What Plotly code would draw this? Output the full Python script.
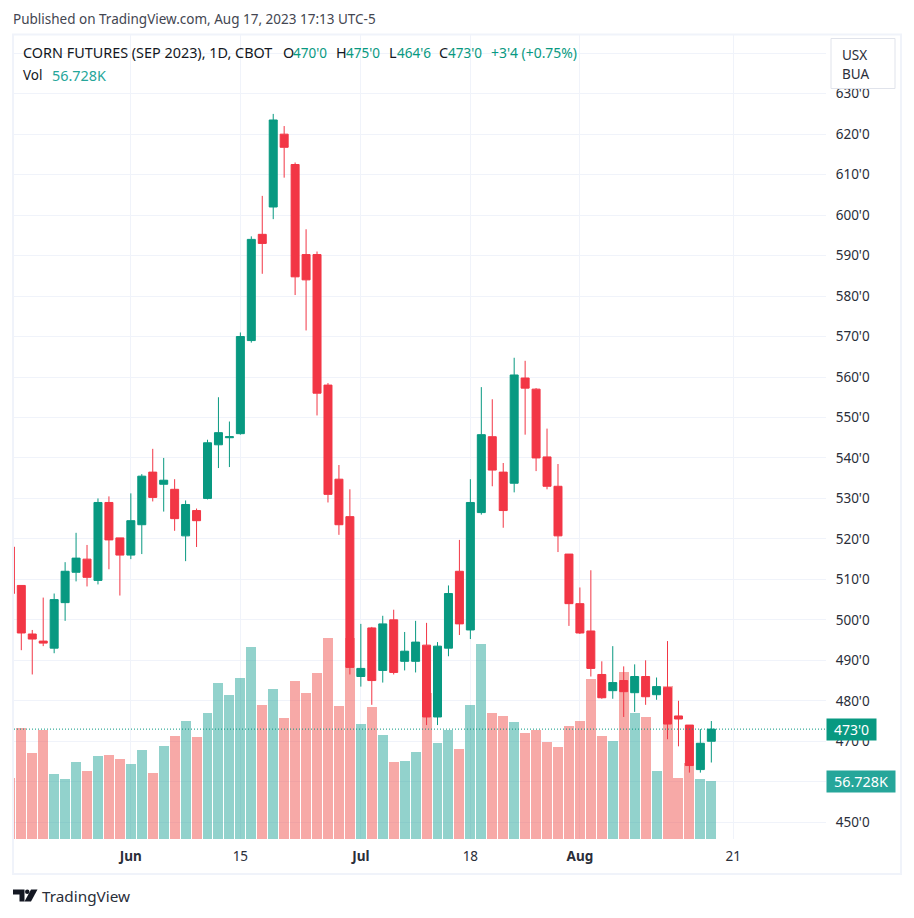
import plotly.graph_objects as go


# daily bars of the Sep 2023 corn contract, prices in cents
bar_index = list(range(65))
open_prices = [518, 508.5, 496.5, 494.75, 493, 504.25, 511.75, 515, 509.75, 529, 520.25, 516, 523.5, 536.5, 533.5, 532.25,
               520.75, 527, 530, 543.25, 545, 546, 569, 595.25, 602, 620, 612.5, 590.25, 590.25, 558, 534.75, 525.5,
               486, 498, 487.5, 500, 489.75, 489.75, 493.75, 476, 493, 512, 497.5, 526.5, 545.25, 536.5, 533.75, 559.75,
               557, 540.25, 533, 516.25, 504, 497.25, 486.5, 482.5, 485, 482, 486, 481.5, 483.25, 476.25, 474, 463, 470]
high_prices = [518, 508.5, 497.5, 505.5, 506.5, 514.25, 521.5, 518.5, 530, 530.5, 520.25, 531.25, 536, 542.25, 540, 534.75,
               529.5, 527.5, 544.5, 555, 549, 571, 594.75, 604.75, 625, 622, 613, 596.5, 591, 558.5, 538.25, 532.25,
               499, 498.25, 501, 502.5, 497, 499.75, 499.25, 494.5, 508.5, 519.75, 534.75, 557.5, 554.5, 538.75, 564.75, 564,
               557.25, 547.25, 538.5, 516.25, 508, 512.25, 489.75, 493.5, 488.5, 489, 490, 485.75, 494.75, 480, 474, 473, 475]
low_prices = [506.25, 492.5, 486.5, 493.5, 491.75, 499.75, 509.5, 508.25, 508.75, 512.5, 506, 515, 516.25, 529.25, 526.75, 522,
              514.5, 518, 529.75, 537.5, 537.75, 545.75, 568.5, 585.5, 599, 609.25, 580.25, 571.5, 550.5, 529, 521, 486.5,
              483.5, 479, 484.5, 486.5, 487.5, 487, 474, 474, 491, 496.25, 495.25, 526, 533, 522.75, 531.5, 545.75,
              536.75, 532.25, 516.75, 498.5, 496.5, 486, 480.5, 480.5, 476, 477.25, 479, 480.25, 470.5, 468.75, 462.25, 462.25, 464.75]
close_prices = [506.5, 496.75, 495.25, 494.25, 505, 512, 515.25, 510.5, 529, 519.75, 516, 524.5, 535.5, 530.25, 534.5, 525,
                528.5, 524.5, 543.75, 546.25, 545.25, 570, 594, 593, 623.5, 616.75, 584.75, 584, 556, 531, 523.5, 488.25,
                488, 485, 499, 487, 492.25, 494.5, 476, 493.5, 506.5, 499, 529, 545.75, 537, 527, 560.5, 557.25,
                540, 533, 520.75, 504, 496.75, 488, 480.75, 484.5, 482.25, 486, 481, 483.5, 474.25, 475.5, 464, 469.5, 473]
volumes = [59.7, 108.6, 84.1, 106.6, 63.6, 58.7, 75.3, 66.5, 81.2, 82.2, 78.2, 73.4, 87, 64.5, 91, 100.7,
           115.4, 99.8, 123.2, 152.6, 140.8, 157.5, 187.8, 131, 146.7, 118.3, 154.5, 142.8, 162.3, 196.6, 130.1, 196.6,
           112.5, 129.1, 101.7, 75.3, 76.3, 85.1, 142.8, 93.9, 106.6, 88, 131, 190.7, 123.2, 120.3, 114.4, 103.7,
           106.6, 94.9, 90, 110.5, 115.4, 156.5, 100.7, 95.8, 163.3, 123.2, 119.3, 66.5, 149.6, 59.7, 74.3, 58.7, 56.728]

time_tick_index = [11, 21, 32, 42, 52, 66]
time_tick_labels = ['<b>Jun</b>', '15', '<b>Jul</b>', '18', '<b>Aug</b>', '21']
price_ticks = [450, 460, 470, 480, 490, 500, 510, 520, 530, 540, 550, 560, 570, 580, 590, 600, 610, 620, 630, 640]
price_tick_labels = ["450'0", '', "470'0", "480'0", "490'0", "500'0", "510'0", "520'0", "530'0", "540'0",
                     "550'0", "560'0", "570'0", "580'0", "590'0", "600'0", "610'0", "620'0", "630'0", '']

up_color = '#089981'
down_color = '#F23645'
text_color = '#131722'
grid_color = '#F0F3FA'
font_name = 'Noto Sans'

# the page body keeps an 8 px margin around the figure
page_margin = 8
fig_width = 898
fig_height = 902

# pixel edges of the pane on the page
pane_left = 14
pane_right = 826
pane_top = 35
pane_bottom = 839

# paper coordinates from page pixels
def paper_x(px):
    return (px - pane_left) / (pane_right - pane_left)

def paper_y(py):
    return (pane_bottom - py) / (pane_bottom - pane_top)

def page_text(text, px, py, size=13.5, color=text_color):
    return dict(text=text, xref='paper', yref='paper', x=paper_x(px - 2), y=paper_y(py), xanchor='left', yanchor='middle',
                showarrow=False, font=dict(family=font_name, size=size, color=color))


volume_colors = [('rgba(38,166,154,0.5)' if c >= o else 'rgba(239,83,80,0.5)') for o, c in zip(open_prices, close_prices)]

fig = go.Figure(data=[
    go.Bar(x=bar_index,
           y=volumes,
           width=0.91,
           marker=dict(color=volume_colors, line=dict(width=0)),
           yaxis='y',
           name='Vol'),
    go.Candlestick(x=bar_index,
                   open=open_prices,
                   high=high_prices,
                   low=low_prices,
                   close=close_prices,
                   yaxis='y2',
                   whiskerwidth=0,
                   increasing=dict(line=dict(color=up_color, width=1), fillcolor=up_color),
                   decreasing=dict(line=dict(color=down_color, width=1), fillcolor=down_color),
                   name='Corn')
])

# logo pieces, drawn in page pixels
logo_bar = 'M %f %f L %f %f L %f %f L %f %f L %f %f L %f %f Z' % (
    paper_x(13), paper_y(889.5), paper_x(24.5), paper_y(889.5), paper_x(24.5), paper_y(901.5),
    paper_x(19.5), paper_y(901.5), paper_x(19.5), paper_y(894.5), paper_x(13), paper_y(894.5))
logo_slash = 'M %f %f L %f %f L %f %f L %f %f Z' % (
    paper_x(31), paper_y(889.5), paper_x(37.5), paper_y(889.5), paper_x(31), paper_y(901.5), paper_x(24.5), paper_y(901.5))

fig.update_layout(width=fig_width,
                  height=fig_height,
                  margin=dict(l=pane_left - page_margin, r=fig_width - pane_right + page_margin,
                              t=pane_top - page_margin, b=fig_height - pane_bottom + page_margin),
                  paper_bgcolor='white',
                  plot_bgcolor='white',
                  showlegend=False,
                  hovermode=False,
                  bargap=0,
                  boxgap=0.27,
                  boxgroupgap=0,
                  font=dict(family=font_name, size=13.5, color='#2A2E39'),
                  xaxis=dict(range=[0.333, 74.47],
                             rangeslider=dict(visible=False),
                             tickmode='array',
                             tickvals=time_tick_index,
                             ticktext=time_tick_labels,
                             ticks='outside',
                             ticklen=5,
                             tickcolor='rgba(0,0,0,0)',
                             gridcolor=grid_color,
                             gridwidth=1,
                             zeroline=False,
                             showline=False),
                  yaxis=dict(range=[0, 786.3], visible=False, showgrid=False, zeroline=False),
                  yaxis2=dict(range=[445.85, 644.5],
                              overlaying='y',
                              side='right',
                              tickmode='array',
                              tickvals=price_ticks,
                              ticktext=price_tick_labels,
                              ticks='outside',
                              ticklen=6,
                              tickcolor='rgba(0,0,0,0)',
                              gridcolor=grid_color,
                              gridwidth=1,
                              zeroline=False,
                              showline=False))

# chart frame, last price line, currency box and logo
fig.add_shape(type='rect', xref='paper', yref='paper', x0=paper_x(13), x1=paper_x(901), y0=paper_y(34.5), y1=paper_y(874),
              line=dict(color=grid_color, width=2), layer='below')
fig.add_shape(type='line', xref='paper', yref='y2', x0=0, x1=1, y0=473, y1=473,
              line=dict(color=up_color, width=1, dash='1px,2px'))
fig.add_shape(type='rect', xref='paper', yref='paper', x0=paper_x(831), x1=paper_x(895), y0=paper_y(38.5), y1=paper_y(88.5),
              line=dict(color='#E0E3EB', width=1), fillcolor='white')
fig.add_shape(type='path', xref='paper', yref='paper', path=logo_bar, fillcolor=text_color, line=dict(width=0))
fig.add_shape(type='path', xref='paper', yref='paper', path=logo_slash, fillcolor=text_color, line=dict(width=0))
fig.add_shape(type='circle', xref='paper', yref='paper', x0=paper_x(25), x1=paper_x(29.5), y0=paper_y(889.5), y1=paper_y(894),
              fillcolor=text_color, line=dict(width=0))

fig.add_annotation(page_text('Published on TradingView.com, Aug 17, 2023 17:13 UTC-5', 13, 19, color='#434651'))
fig.add_annotation(page_text('CORN FUTURES (SEP 2023), 1D, CBOT', 23, 53, size=14.4))
fig.add_annotation(page_text('O', 282.5, 53, size=14.4))
fig.add_annotation(page_text("470'0", 293, 53, color=up_color))
fig.add_annotation(page_text('H', 336, 53, size=14.4))
fig.add_annotation(page_text("475'0", 346, 53, color=up_color))
fig.add_annotation(page_text('L', 389, 53, size=14.4))
fig.add_annotation(page_text("464'6", 397, 53, color=up_color))
fig.add_annotation(page_text('C', 439, 53, size=14.4))
fig.add_annotation(page_text("473'0", 448, 53, color=up_color))
fig.add_annotation(page_text("+3'4 (+0.75%)", 490.5, 53, size=13.9, color=up_color))
fig.add_annotation(page_text('Vol', 23, 75))
fig.add_annotation(page_text('56.728K', 52, 75, size=14.4, color='#26A69A'))
fig.add_annotation(page_text('USX', 842, 55, color='#2A2E39'))
fig.add_annotation(page_text('BUA', 842, 74, color='#2A2E39'))
fig.add_annotation(page_text('TradingView', 42, 896, size=15.3, color='#2A2E39'))

# price and volume tags on the scale
fig.add_annotation(page_text("473'0", 828, 729.7, size=14, color='white'), width=47, height=19, align='center', bgcolor=up_color)
fig.add_annotation(page_text('56.728K', 828, 781.5, size=14.4, color='white'), width=66, height=19, align='center', bgcolor='#26A69A')

fig.write_html('out.html')
